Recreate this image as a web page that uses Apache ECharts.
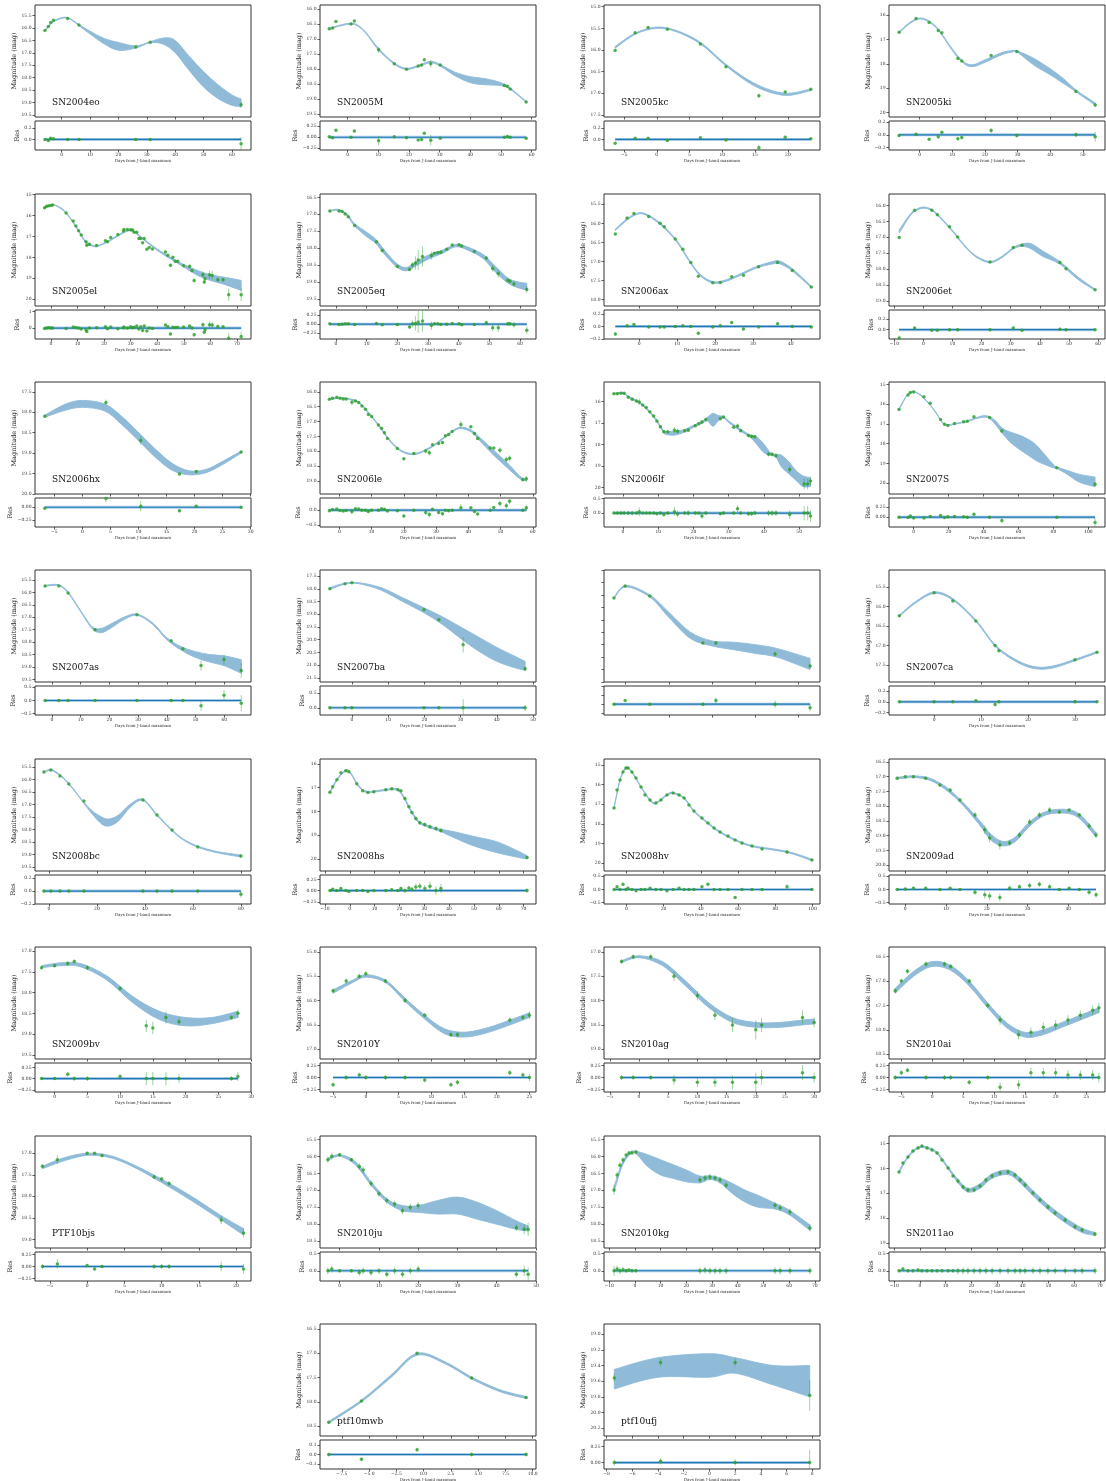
<!DOCTYPE html>
<html>
<head>
<meta charset="utf-8">
<script src="https://cdn.jsdelivr.net/npm/echarts@6/dist/echarts.min.js"></script>
<style>
  html, body { margin: 0; padding: 0; background: #fff; }
  #main { width: 1106px; height: 1481px; }
</style>
</head>
<body>
<div id="main"></div>
<script>
// axes per panel: [xmin, xmax, xstep, ymin, ymax, ystep, rmin, rmax, rstep]
// points per panel: [day, mag, err, residual]
// band per panel: [day, magLow, magHigh]

const sn2004eo_axes = [-9.4, 66.7, 10, 15.07, 19.59, 0.5, -0.19, 0.33, 0.2];
const sn2004eo_pts = [[-5.9,16.10,0.02,0.00],[-4.7,15.94,0.02,-0.02],[-3.9,15.78,0.02,0.02],[-2.9,15.69,0.02,0.01],[2.1,15.61,0.02,0.00],[6.1,15.88,0.02,0.00],[26.1,16.76,0.02,0.00],[31.2,16.57,0.02,0.00],[63.2,19.10,0.12,-0.08]];
const sn2004eo_band = [[-5.9,16.08,16.12],[-3,15.72,15.76],[0.5,15.57,15.60],[3,15.62,15.65],[6,15.85,15.90],[10,16.13,16.24],[15,16.42,16.64],[20,16.58,16.90],[26.1,16.72,16.81],[31.2,16.55,16.59],[36,16.40,16.66],[40,16.50,17.00],[45,17.15,17.72],[50,17.76,18.38],[55,18.28,18.84],[60,18.70,19.12],[63.2,18.86,19.18]];

const sn2005m_axes = [-9.0, 61.4, 10, 15.87, 19.59, 0.5, -0.29, 0.37, 0.25];
const sn2005m_pts = [[-6.0,16.66,0.02,0.01],[-4.9,16.63,0.02,-0.01],[-3.8,16.42,0.03,0.16],[1.1,16.50,0.02,0.00],[2.2,16.40,0.03,0.14],[10.1,17.36,0.10,-0.08],[15.2,17.82,0.02,0.01],[19.2,18.00,0.02,-0.01],[23.0,17.90,0.02,-0.06],[24.1,17.86,0.02,-0.05],[25.0,17.69,0.02,0.09],[27.1,17.82,0.12,-0.07],[30.2,17.86,0.02,-0.02],[51.1,18.54,0.02,0.00],[52.1,18.57,0.03,0.02],[53.0,18.66,0.02,0.00],[58.2,19.09,0.03,-0.02]];
const sn2005m_band = [[-6.0,16.65,16.68],[-3,16.55,16.58],[0.5,16.48,16.51],[3,16.52,16.55],[6,16.78,16.82],[10,17.30,17.36],[15,17.78,17.82],[19,17.97,18.01],[23,17.88,17.92],[27,17.74,17.79],[30,17.84,17.89],[35,18.10,18.22],[40,18.25,18.45],[45,18.32,18.52],[50,18.45,18.55],[53,18.63,18.67],[58.2,19.07,19.10]];

const sn2005kc_axes = [-8.05, 24.9, 5, 14.96, 17.55, 0.5, -0.19, 0.33, 0.2];
const sn2005kc_pts = [[-6.35,16.01,0.02,-0.07],[-3.30,15.60,0.02,0.02],[-1.32,15.48,0.02,0.02],[1.62,15.52,0.02,-0.02],[6.65,15.86,0.02,0.03],[10.56,16.39,0.02,-0.01],[15.58,17.06,0.05,-0.15],[19.59,16.97,0.03,0.04],[23.5,16.91,0.02,0.01]];
const sn2005kc_band = [[-6.35,15.92,15.96],[-3.3,15.61,15.64],[0,15.47,15.50],[3,15.55,15.58],[6.65,15.82,15.86],[10.56,16.33,16.37],[15,16.78,16.84],[19.5,17.00,17.05],[23.5,16.90,16.94]];

const sn2005ki_axes = [-9.4, 56.8, 10, 15.59, 20.18, 1, -0.24, 0.22, 0.2];
const sn2005ki_pts = [[-6.3,16.71,0.02,-0.01],[-1.1,16.14,0.02,0.01],[2.9,16.31,0.02,-0.07],[5.7,16.63,0.03,-0.03],[6.8,16.73,0.02,0.04],[11.7,17.78,0.03,-0.06],[12.9,17.89,0.03,-0.04],[21.9,17.66,0.04,0.07],[29.8,17.50,0.03,-0.01],[47.9,19.13,0.04,0.00],[53.8,19.69,0.08,-0.03]];
const sn2005ki_band = [[-6.3,16.69,16.73],[-3,16.30,16.35],[0,16.12,16.16],[3,16.25,16.30],[6,16.62,16.67],[9.5,17.30,17.36],[13,17.86,17.93],[16,18.04,18.12],[20,17.84,17.94],[25,17.55,17.64],[28,17.46,17.53],[30,17.48,17.54],[35,17.78,18.05],[40,18.20,18.45],[44,18.60,18.80],[48,19.08,19.16],[53.8,19.60,19.70]];

const sn2005el_axes = [-6.0, 75.3, 10, 14.98, 20.32, 1, -0.65, 1.08, 1];
const sn2005el_pts = [[-2.4,15.64,0.03,-0.02],[-1.6,15.56,0.03,0.0],[-0.8,15.54,0.03,0.02],[0.0,15.53,0.03,0.0],[0.6,15.51,0.03,0.01],[5.7,15.89,0.03,-0.02],[8.4,16.27,0.03,0.06],[9.4,16.50,0.03,0.03],[10.4,16.73,0.03,0.01],[11.4,16.94,0.03,-0.05],[13.2,17.26,0.08,-0.12],[13.5,17.42,0.05,-0.2],[14.5,17.37,0.03,0.0],[17.2,17.43,0.03,0.02],[20.5,17.21,0.05,0.08],[21.3,17.26,0.04,-0.04],[22.5,17.05,0.03,0.06],[25.2,16.91,0.03,-0.04],[27.3,16.75,0.03,0.02],[27.5,16.67,0.05,0.06],[28.8,16.67,0.03,0.0],[30.0,16.69,0.03,0.08],[30.7,16.70,0.05,0.02],[31.3,16.80,0.03,0.05],[32.3,16.80,0.03,0.12],[33.1,17.10,0.05,-0.05],[33.8,17.10,0.03,0.08],[34.5,17.31,0.05,-0.15],[35.1,17.10,0.05,0.13],[36.1,17.61,0.05,-0.18],[37.0,17.53,0.03,0.0],[38.2,17.60,0.03,-0.02],[43.1,17.74,0.05,0.18],[44.0,17.90,0.05,0.08],[45.0,18.38,0.08,-0.35],[45.9,18.00,0.05,0.05],[46.8,18.19,0.07,0.03],[47.7,18.19,0.05,0.05],[49.9,18.40,0.05,0.06],[52.2,18.43,0.08,0.12],[53.1,18.63,0.08,0.0],[53.9,19.10,0.1,-0.4],[57.2,18.83,0.15,0.2],[57.7,19.18,0.1,-0.25],[58.0,19.02,0.1,-0.1],[59.7,18.83,0.2,0.2],[60.7,18.86,0.2,0.18],[62.8,19.07,0.12,0.1],[64.8,19.07,0.08,0.08],[66.9,19.78,0.3,-0.6],[71.6,19.78,0.3,-0.5]];
const sn2005el_band = [[-2.4,15.62,15.65],[0.6,15.49,15.52],[3,15.58,15.62],[6,15.90,15.94],[10,16.62,16.67],[13,17.22,17.28],[16,17.43,17.48],[18,17.42,17.46],[22,17.18,17.23],[26,16.88,16.93],[29,16.70,16.75],[31,16.73,16.78],[35,17.13,17.18],[40,17.60,17.67],[45,18.00,18.08],[50,18.34,18.46],[55,18.62,18.85],[60,18.83,19.10],[65,18.94,19.28],[71.6,19.10,19.58]];

const sn2005eq_axes = [-5.2, 65.2, 10, 16.40, 19.71, 0.5, -0.41, 0.39, 0.25];
const sn2005eq_pts = [[-2.0,16.90,0.02,0.01],[1.0,16.90,0.02,-0.01],[2.0,16.92,0.02,0.0],[3.0,16.99,0.02,0.01],[4.0,17.07,0.02,0.01],[6.1,17.33,0.02,-0.01],[13.2,17.81,0.02,0.02],[15.1,18.07,0.02,-0.02],[20.0,18.54,0.03,-0.01],[24.0,18.63,0.05,-0.08],[24.9,18.50,0.1,0.01],[25.9,18.44,0.2,0.02],[26.8,18.35,0.3,0.06],[28.2,18.25,0.3,0.09],[31.1,18.22,0.12,-0.04],[32.1,18.15,0.03,0.01],[33.2,18.13,0.02,0.01],[34.2,18.12,0.02,-0.01],[36.1,18.03,0.02,0.0],[37.9,17.91,0.03,0.02],[40.1,17.90,0.02,0.01],[41.0,17.94,0.02,-0.02],[45.1,18.10,0.02,-0.01],[49.0,18.29,0.05,0.04],[51.1,18.60,0.1,-0.1],[52.9,18.75,0.12,-0.1],[56.0,18.95,0.05,0.01],[56.7,18.98,0.05,0.01],[58.0,19.06,0.08,-0.02],[62.2,19.22,0.1,-0.17]];
const sn2005eq_band = [[-2,16.89,16.92],[0,16.85,16.88],[2,16.89,16.93],[4,17.03,17.08],[6,17.27,17.34],[10,17.53,17.66],[13,17.74,17.86],[16,18.08,18.20],[20,18.47,18.57],[23,18.57,18.67],[26,18.41,18.53],[30,18.21,18.33],[35,18.05,18.14],[39,17.89,17.96],[43,17.97,18.06],[48,18.19,18.31],[52,18.54,18.71],[56,18.88,19.03],[59,18.99,19.16],[62.2,19.04,19.24]];

const sn2006ax_axes = [-9.3, 47.7, 10, 15.23, 18.17, 0.5, -0.2, 0.26, 0.2];
const sn2006ax_pts = [[-6.3,16.28,0.03,-0.12],[-3.2,15.86,0.02,0.01],[-1.4,15.74,0.02,0.03],[2.5,15.82,0.02,-0.01],[5.5,16.00,0.02,-0.01],[6.6,16.09,0.02,-0.01],[9.5,16.41,0.02,0.0],[11.5,16.68,0.02,0.01],[13.6,17.03,0.02,0.0],[15.6,17.39,0.02,-0.11],[19.4,17.56,0.02,-0.01],[21.4,17.55,0.02,0.01],[24.4,17.40,0.02,0.06],[27.5,17.36,0.02,-0.04],[31.5,17.14,0.02,-0.01],[36.5,17.03,0.02,0.04],[40.4,17.24,0.02,0.0],[45.4,17.67,0.02,-0.01]];
const sn2006ax_band = [[-6.3,16.15,16.19],[-3,15.86,15.90],[0,15.72,15.75],[2.5,15.79,15.82],[6,16.03,16.07],[10,16.46,16.50],[13,16.93,16.97],[16,17.33,17.37],[19.5,17.53,17.57],[23,17.48,17.52],[27,17.31,17.35],[31,17.13,17.17],[35,17.01,17.07],[37,16.99,17.06],[40.4,17.19,17.25],[45.4,17.65,17.69]];

const sn2006et_axes = [-11.8, 62.4, 10, 15.64, 19.16, 0.5, -0.17, 0.36, 0.2];
const sn2006et_pts = [[-8.3,17.01,0.04,-0.15],[-3.0,16.15,0.02,0.03],[2.9,16.15,0.02,-0.01],[4.8,16.29,0.02,-0.01],[9.0,16.67,0.02,0.0],[11.8,16.99,0.02,0.0],[22.9,17.78,0.02,0.0],[30.9,17.32,0.03,0.03],[33.9,17.25,0.02,-0.01],[46.9,17.79,0.03,0.01],[49.0,17.99,0.02,0.0],[59.0,18.65,0.02,0.0]];
const sn2006et_band = [[-8.3,16.77,16.87],[-5,16.33,16.39],[-3,16.15,16.19],[0,16.05,16.09],[3,16.13,16.17],[6,16.38,16.42],[10,16.78,16.82],[14,17.23,17.27],[18,17.58,17.62],[22.9,17.76,17.80],[27,17.60,17.64],[31,17.31,17.36],[34,17.21,17.29],[37,17.20,17.36],[41,17.43,17.60],[47,17.77,17.85],[53,18.24,18.32],[59,18.63,18.67]];

const sn2006hx_axes = [-8.45, 30.06, 5, 17.26, 20.0, 0.5, -0.385, 0.18, 0.25];
const sn2006hx_pts = [[-6.7,18.10,0.03,-0.02],[4.2,17.76,0.07,0.17],[10.4,18.69,0.1,0.02],[17.3,19.51,0.03,-0.07],[20.3,19.45,0.03,0.02],[28.3,18.97,0.02,0.0]];
const sn2006hx_band = [[-6.7,18.07,18.12],[-3,17.80,17.95],[0,17.71,17.88],[4,17.80,17.97],[7,18.10,18.30],[10.4,18.55,18.75],[13,18.90,19.10],[16,19.25,19.42],[19,19.43,19.53],[22,19.40,19.48],[25,19.20,19.28],[28.3,18.95,19.0]];

const sn2006le_axes = [-6.0, 61.0, 10, 15.67, 19.44, 0.5, -0.57, 0.41, 0.5];
const sn2006le_pts = [[-3.1,16.25,0.02,-0.02],[-2.1,16.22,0.02,0.02],[-0.8,16.18,0.02,0.04],[0.2,16.22,0.02,-0.01],[1.2,16.24,0.02,-0.03],[2.1,16.24,0.02,-0.01],[3.9,16.35,0.1,-0.05],[5.0,16.31,0.03,0.05],[6.0,16.36,0.03,0.04],[7.0,16.48,0.02,0.0],[8.1,16.59,0.02,0.0],[9.0,16.76,0.03,-0.05],[10.0,16.83,0.02,0.0],[12.1,17.12,0.02,0.0],[13.1,17.23,0.02,0.05],[14.0,17.38,0.05,0.03],[14.9,17.57,0.03,-0.03],[18.0,17.91,0.02,-0.02],[20.0,18.25,0.05,-0.2],[23.1,18.08,0.02,0.0],[26.8,17.99,0.08,-0.08],[27.9,18.05,0.1,-0.15],[28.9,17.78,0.03,0.03],[30.8,17.74,0.05,-0.08],[32.0,17.71,0.05,-0.12],[32.9,17.48,0.03,0.0],[33.9,17.44,0.03,-0.02],[35.0,17.34,0.03,0.0],[37.7,17.10,0.12,0.08],[40.8,17.18,0.03,0.08],[41.9,17.40,0.03,-0.05],[42.9,17.57,0.03,-0.13],[46.8,17.89,0.03,0.0],[47.9,17.89,0.03,0.09],[49.8,17.97,0.1,0.22],[51.8,18.28,0.1,0.15],[52.8,18.24,0.1,0.3],[56.9,18.96,0.03,0.0],[58.0,18.93,0.1,0.08]];
const sn2006le_band = [[-3.1,16.23,16.26],[0,16.19,16.22],[3,16.23,16.26],[6,16.34,16.37],[9,16.68,16.72],[12,17.08,17.12],[15,17.53,17.57],[18,17.88,17.92],[21,18.05,18.09],[24,18.06,18.10],[27,17.93,17.97],[30,17.73,17.77],[33,17.48,17.52],[36,17.25,17.29],[38,17.19,17.24],[41,17.29,17.36],[44,17.58,17.70],[47,17.88,18.04],[50,18.18,18.35],[53,18.49,18.65],[56,18.84,18.93],[58,18.95,19.0]];

const sn2006lf_axes = [-5.4, 55.9, 10, 15.09, 20.30, 1, -0.48, 0.52, 0.5];
const sn2006lf_pts = [[-2.6,15.64,0.03,0.0],[-1.6,15.64,0.03,0.0],[-0.6,15.61,0.05,0.0],[0.3,15.61,0.05,0.0],[1.5,15.80,0.05,0.0],[2.6,15.89,0.08,0.0],[3.8,15.97,0.05,0.0],[4.6,16.02,0.15,0.05],[5.6,16.16,0.03,0.0],[6.6,16.28,0.03,0.0],[7.6,16.47,0.03,0.0],[8.7,16.67,0.03,0.0],[9.6,16.91,0.03,-0.02],[10.6,17.17,0.05,0.0],[11.6,17.41,0.08,-0.05],[12.7,17.41,0.05,0.0],[14.6,17.33,0.15,0.05],[15.5,17.38,0.12,-0.03],[17.5,17.36,0.05,0.0],[18.5,17.33,0.1,0.0],[20.5,17.13,0.05,0.0],[21.5,17.03,0.05,0.0],[22.4,16.95,0.1,-0.1],[23.5,16.83,0.05,0.0],[27.6,16.80,0.05,-0.02],[28.5,16.72,0.05,0.0],[31.4,17.19,0.05,0.0],[32.5,17.14,0.12,0.15],[33.4,17.36,0.05,0.0],[35.6,17.58,0.08,-0.02],[36.5,17.61,0.08,-0.02],[37.4,17.64,0.08,0.0],[41.3,18.45,0.1,0.0],[42.3,18.45,0.1,0.0],[43.4,18.52,0.1,0.0],[47.3,19.16,0.15,-0.05],[51.4,19.83,0.25,0.0],[52.4,19.83,0.25,0.0],[53.2,19.69,0.2,-0.1]];
const sn2006lf_band = [[-2.6,15.62,15.66],[0,15.58,15.63],[2,15.80,15.86],[5,16.05,16.12],[8,16.53,16.60],[10,16.96,17.04],[11.6,17.36,17.47],[13,17.40,17.55],[15,17.38,17.55],[17.5,17.30,17.42],[20,17.10,17.20],[22.5,16.92,17.00],[24,16.72,16.90],[25.5,16.55,17.15],[27,16.65,16.90],[28.5,16.70,16.76],[30,16.90,16.98],[32,17.13,17.22],[34,17.35,17.45],[36,17.55,17.65],[38,17.65,18.00],[40,17.98,18.38],[42,18.40,18.50],[43.5,18.45,18.60],[45,18.50,19.05],[47.3,18.85,19.40],[49,19.20,19.65],[51,19.45,19.95],[53.2,19.55,19.95]];

const sn2007s_axes = [-14.1, 109.5, 20, 14.88, 20.54, 1, -0.24, 0.47, 0.25];
const sn2007s_pts = [[-8.4,16.27,0.02,0.0],[-3.2,15.54,0.02,-0.01],[-1.9,15.41,0.02,0.03],[0.0,15.39,0.02,-0.02],[5.9,15.63,0.02,-0.02],[9.5,15.96,0.02,0.02],[15.4,16.77,0.02,0.04],[17.7,17.01,0.02,-0.01],[19.6,17.08,0.02,0.01],[23.4,16.98,0.02,0.02],[28.6,16.89,0.02,0.01],[30.7,16.86,0.02,0.0],[34.5,16.64,0.03,0.07],[43.4,16.67,0.02,0.0],[50.5,17.35,0.07,-0.08],[81.9,19.21,0.03,0.0],[103.8,20.05,0.12,-0.13]];
const sn2007s_band = [[-8.4,16.22,16.30],[-4,15.56,15.60],[-1,15.36,15.40],[1,15.37,15.41],[5,15.60,15.64],[10,16.08,16.12],[14,16.58,16.62],[17,16.96,17.00],[20,17.03,17.07],[25,16.95,16.99],[30,16.86,16.90],[35,16.70,16.75],[40,16.58,16.66],[43.4,16.63,16.72],[47,16.85,17.05],[50.5,17.20,17.45],[55,17.40,17.90],[60,17.55,18.25],[65,17.75,18.55],[70,18.05,18.85],[75,18.55,19.05],[80,19.05,19.22],[82,19.18,19.25],[88,19.35,19.55],[95,19.55,19.95],[103.8,19.68,20.17]];

const sn2007as_axes = [-5.9, 69.3, 10, 15.1, 19.6, 0.5, -0.55, 0.55, 0.5];
const sn2007as_pts = [[-2.4,15.74,0.02,0.0],[2.4,15.74,0.02,0.0],[5.6,16.02,0.02,0.0],[15.0,17.5,0.02,0.0],[29.6,16.9,0.02,0.0],[41.5,17.94,0.03,0.0],[45.6,18.26,0.03,0.0],[51.9,18.94,0.2,-0.2],[59.9,18.7,0.2,0.2],[65.9,19.14,0.3,-0.1]];
const sn2007as_band = [[-2.4,15.72,15.76],[0,15.68,15.72],[3,15.72,15.76],[6,16.03,16.08],[10,16.73,16.78],[14,17.38,17.46],[17,17.45,17.62],[20,17.30,17.47],[25,17.00,17.10],[29.6,16.87,16.92],[35,17.22,17.28],[40,17.82,17.90],[45,18.18,18.32],[50,18.38,18.62],[55,18.50,18.80],[60,18.55,18.95],[65.9,18.70,19.25]];

const sn2007ba_axes = [-8.8, 50.8, 10, 17.26, 21.66, 0.5, -0.25, 0.75, 0.5];
const sn2007ba_pts = [[-6.1,18.0,0.02,0.0],[-1.9,17.8,0.02,0.0],[0,17.76,0.02,0.0],[19.9,18.82,0.02,0.0],[24,19.21,0.03,0.0],[30.7,20.2,0.3,0.0],[47.8,21.14,0.1,0.0]];
const sn2007ba_band = [[-6.1,17.95,18.03],[-2,17.78,17.82],[2,17.76,17.80],[8,17.95,18.05],[14,18.35,18.50],[20,18.75,18.95],[25,19.10,19.40],[30,19.50,19.95],[35,19.90,20.45],[40,20.30,20.85],[45,20.65,21.10],[47.8,20.85,21.20]];

const blank_axes = [-5, 45, 10, 15.0, 19.5, 0.5, -0.3, 0.5, 0.25];
const blank_pts = [[-2.7,16.13,0.02,0.0],[-0.1,15.64,0.02,0.1],[5.6,16.04,0.02,0.0],[17.9,17.93,0.05,0.0],[20.9,17.93,0.08,0.1],[34.6,18.38,0.1,0.0],[42.7,18.86,0.1,-0.1]];
const blank_band = [[-2.7,16.1,16.15],[0,15.62,15.68],[5.6,16.0,16.08],[10,16.7,16.9],[15,17.5,17.75],[20,17.85,18.05],[25,17.9,18.2],[30,18.0,18.35],[35,18.15,18.5],[42.7,18.55,19.0]];

const sn2007ca_axes = [-9.6, 36.4, 10, 15.07, 17.93, 0.5, -0.25, 0.3, 0.2];
const sn2007ca_pts = [[-7.4,16.24,0.02,0.0],[0,15.65,0.02,0.0],[4.0,15.86,0.02,0.0],[8.9,16.37,0.02,0.02],[13.0,17.0,0.04,-0.05],[13.8,17.13,0.03,0.0],[30,17.36,0.02,0.0],[34.7,17.17,0.02,0.0]];
const sn2007ca_band = [[-7.4,16.22,16.26],[-4,15.88,15.92],[0,15.63,15.67],[4,15.80,15.84],[9,16.36,16.40],[13,16.98,17.02],[17,17.33,17.38],[21,17.53,17.58],[25,17.53,17.58],[30,17.35,17.39],[34.7,17.15,17.19]];

const sn2008bc_axes = [-5.8, 84.2, 20, 15.18, 19.66, 0.5, -0.2, 0.25, 0.2];
const sn2008bc_pts = [[-2.1,15.70,0.02,0.0],[0.8,15.62,0.02,0.0],[4.6,15.86,0.02,0.0],[8.3,16.18,0.02,0.0],[14.6,16.86,0.02,0.0],[39.2,16.82,0.02,0.0],[45,17.42,0.02,0.0],[51.3,18.02,0.02,0.0],[62,18.70,0.02,0.0],[80,19.06,0.05,-0.05]];
const sn2008bc_band = [[-2.1,15.68,15.72],[1,15.60,15.64],[5,15.84,15.88],[9,16.23,16.27],[14,16.84,16.88],[18,17.25,17.38],[22,17.50,17.78],[25,17.58,17.86],[29,17.42,17.66],[34,16.98,17.10],[39.2,16.79,16.84],[45,17.39,17.44],[51,17.98,18.03],[56,18.38,18.42],[62,18.66,18.71],[70,18.88,18.93],[80,19.02,19.10]];

const sn2008hs_axes = [-12, 75, 10, 15.8, 20.5, 1, -0.3, 0.35, 0.25];
const sn2008hs_pts = [[-8.0,17.20,0.03,0.0],[-6.9,16.96,0.03,0.03],[-5.2,16.67,0.03,0.0],[-3.6,16.38,0.03,0.05],[-1.6,16.29,0.03,0.0],[-0.4,16.33,0.03,-0.02],[2.8,16.84,0.03,0.0],[5.2,17.13,0.03,0.0],[7.3,17.21,0.03,-0.02],[9.7,17.17,0.03,0.0],[14.5,17.09,0.03,0.0],[16.9,17.05,0.03,0.02],[19.4,17.09,0.03,0.0],[20.6,17.13,0.04,0.05],[22.2,17.46,0.05,0.0],[23.8,17.80,0.05,0.06],[25.0,18.05,0.05,0.03],[26.6,18.30,0.08,0.08],[28.2,18.47,0.08,0.1],[30.2,18.55,0.08,0.05],[32.3,18.64,0.1,0.1],[34.7,18.72,0.1,0.0],[36.7,18.80,0.1,0.05],[71.4,19.93,0.05,0.0]];
const sn2008hs_band = [[-8,17.17,17.23],[-5.2,16.64,16.70],[-2,16.28,16.33],[0,16.32,16.37],[3,16.82,16.88],[6,17.13,17.18],[10,17.14,17.19],[15,17.06,17.11],[19.4,17.06,17.12],[22,17.42,17.50],[25,18.00,18.08],[28,18.42,18.50],[32,18.60,18.68],[36.7,18.75,18.85],[42,18.85,19.10],[50,19.05,19.45],[60,19.30,19.75],[71.4,19.85,20.00]];

const sn2008hv_axes = [-12, 104, 20, 14.7, 20.4, 1, -0.55, 0.55, 0.5];
const sn2008hv_pts = [[-6.6,17.19,0.05,0.0],[-5.0,16.28,0.05,0.1],[-3.4,15.77,0.05,0.0],[-1.8,15.36,0.05,0.2],[-0.2,15.16,0.05,0.0],[0.9,15.16,0.05,0.05],[3.0,15.36,0.05,0.0],[5.2,15.67,0.05,-0.05],[7.9,16.13,0.05,0.0],[10.0,16.53,0.05,0.0],[12.7,16.79,0.05,0.05],[15.9,16.94,0.05,0.0],[18.6,16.79,0.05,0.0],[21.8,16.53,0.05,-0.05],[25.1,16.43,0.05,0.0],[28.3,16.53,0.05,0.05],[31.0,16.69,0.05,0.0],[33.6,17.04,0.05,0.0],[36.3,17.35,0.05,0.0],[40.6,17.70,0.05,0.1],[43.8,17.96,0.05,0.2],[47.1,18.21,0.05,0.0],[50.3,18.42,0.05,0.0],[54.6,18.62,0.05,0.0],[58.4,18.82,0.05,-0.3],[62.1,18.98,0.05,0.0],[67.5,19.13,0.05,0.0],[72.9,19.28,0.05,0.0],[86.3,19.43,0.1,0.1],[99.7,19.84,0.05,0.0]];
const sn2008hv_band = [[-6.6,17.15,17.23],[-3.4,15.74,15.80],[-0.2,15.13,15.19],[3.0,15.33,15.39],[7.9,16.10,16.16],[12.7,16.76,16.82],[15.9,16.91,16.97],[21.8,16.50,16.56],[25.1,16.40,16.46],[31.0,16.66,16.72],[36.3,17.32,17.38],[43.8,17.93,17.99],[50.3,18.39,18.45],[58.4,18.79,18.85],[67.5,19.10,19.16],[86.3,19.40,19.46],[99.7,19.80,19.88]];

const sn2009ad_axes = [-4, 49, 10, 16.4, 20.2, 0.5, -0.55, 0.55, 0.5];
const sn2009ad_pts = [[-2,17.05,0.05,0],[0,17.0,0.05,0.02],[2,17.0,0.05,0.05],[5,17.05,0.05,0.05],[8.5,17.28,0.05,0],[11,17.45,0.05,0.05],[13.4,17.79,0.05,0],[17.1,18.3,0.1,-0.1],[19.5,18.8,0.15,-0.2],[20.7,19.08,0.15,-0.25],[23.2,19.32,0.15,-0.3],[25.6,19.25,0.1,0.05],[28,18.98,0.1,0.1],[30.5,18.54,0.1,0.15],[32.9,18.3,0.1,0.2],[35.4,18.13,0.1,0.1],[37.8,18.2,0.05,0],[40.2,18.13,0.05,0.05],[42.7,18.3,0.05,0],[45.1,18.67,0.1,-0.1],[46.8,18.98,0.1,-0.2]];
const sn2009ad_band = [[-2,17.02,17.08],[2,16.97,17.03],[6,17.05,17.12],[10,17.35,17.45],[14,17.85,17.95],[18,18.45,18.60],[21,18.95,19.15],[24,19.20,19.35],[27,19.05,19.20],[30,18.60,18.75],[33,18.28,18.40],[36,18.13,18.25],[40,18.12,18.25],[43,18.30,18.45],[46.8,18.90,19.05]];

const sn2009bv_axes = [-3, 30, 5, 16.9, 19.6, 0.5, -0.3, 0.35, 0.25];
const sn2009bv_pts = [[-2,17.4,0.03,0],[0,17.35,0.03,0],[2,17.3,0.05,0.1],[3,17.25,0.05,0],[5,17.4,0.05,0],[10,17.9,0.05,0.05],[14,18.8,0.15,0],[15,18.85,0.15,0],[17,18.6,0.15,0],[19,18.7,0.1,0],[27,18.6,0.05,0],[28,18.5,0.1,0.05]];
const sn2009bv_band = [[-2,17.35,17.4],[1,17.28,17.35],[4,17.3,17.38],[8,17.6,17.7],[12,18.1,18.25],[16,18.45,18.65],[20,18.6,18.8],[24,18.6,18.75],[28,18.45,18.6]];

const sn2010y_axes = [-7, 26, 5, 14.9, 17.2, 0.5, -0.3, 0.3, 0.25];
const sn2010y_pts = [[-5,15.8,0.05,-0.15],[-3,15.6,0.05,0],[-1,15.5,0.05,0.05],[0,15.45,0.05,0],[3,15.6,0.05,0],[6,16.0,0.05,0],[9,16.3,0.05,-0.05],[13,16.7,0.05,-0.15],[14,16.7,0.05,-0.1],[22,16.4,0.05,0.1],[24,16.35,0.05,0.05],[25,16.3,0.08,0]];
const sn2010y_band = [[-5,15.78,15.85],[-2,15.58,15.63],[0,15.47,15.52],[3,15.58,15.63],[6,15.95,16.02],[9,16.3,16.38],[12,16.58,16.68],[15,16.65,16.75],[18,16.58,16.68],[21,16.45,16.55],[25,16.25,16.35]];

const sn2010ag_axes = [-6, 31, 5, 16.9, 19.2, 0.5, -0.3, 0.3, 0.25];
const sn2010ag_pts = [[-3,17.2,0.05,0],[-1,17.1,0.05,0],[2,17.1,0.05,0],[6,17.5,0.1,-0.05],[10,17.9,0.1,-0.1],[13,18.3,0.1,-0.1],[16,18.5,0.15,-0.1],[20,18.6,0.2,-0.1],[21,18.5,0.15,0],[28,18.35,0.15,0.1],[30,18.45,0.1,0]];
const sn2010ag_band = [[-3,17.18,17.22],[0,17.08,17.12],[4,17.2,17.28],[8,17.6,17.7],[12,18.05,18.15],[16,18.35,18.45],[20,18.45,18.55],[24,18.45,18.55],[28,18.4,18.5],[30,18.38,18.48]];

const sn2010ai_axes = [-7, 28, 5, 16.3, 18.6, 0.5, -0.3, 0.3, 0.25];
const sn2010ai_pts = [[-6,17.2,0.05,0],[-5,17.0,0.05,0.1],[-4,16.8,0.05,0.15],[-1,16.65,0.05,0],[2,16.65,0.05,0],[3,16.7,0.05,0],[6,17.0,0.05,-0.1],[9,17.5,0.05,0],[11,17.8,0.1,-0.2],[14,18.1,0.1,-0.15],[16,18.05,0.1,0.1],[18,17.95,0.1,0.1],[20,17.9,0.1,0.1],[22,17.8,0.1,0.05],[24,17.7,0.1,0.05],[26,17.6,0.1,0.05],[27,17.55,0.1,0]];
const sn2010ai_band = [[-6,17.15,17.25],[-3,16.8,16.9],[0,16.6,16.7],[3,16.68,16.78],[6,17.0,17.1],[9,17.45,17.55],[12,17.85,17.95],[15,18.05,18.15],[18,18.0,18.1],[21,17.85,17.95],[24,17.7,17.8],[27,17.55,17.65]];

const ptf10bjs_axes = [-7, 22, 5, 16.6, 19.2, 0.5, -0.3, 0.3, 0.25];
const ptf10bjs_pts = [[-6,17.3,0.05,0],[-4,17.15,0.1,0.05],[0,17.0,0.03,0.02],[1,17.0,0.03,-0.05],[2,17.05,0.03,0],[9,17.55,0.05,0],[10,17.6,0.05,0],[11,17.7,0.05,0],[18,18.55,0.1,0],[21,18.85,0.1,-0.05]];
const ptf10bjs_band = [[-6,17.3,17.36],[-3,17.1,17.17],[0,17.0,17.05],[3,17.05,17.1],[6,17.25,17.3],[10,17.6,17.68],[14,18.0,18.1],[18,18.45,18.55],[21,18.75,18.9]];

const sn2010ju_axes = [-5, 50, 10, 15.4, 18.7, 0.5, -0.3, 0.55, 0.5];
const sn2010ju_pts = [[-3,16.1,0.1,0],[-2,16.0,0.1,0.05],[0,15.95,0.05,0],[3,16.1,0.05,0],[5,16.3,0.1,-0.05],[6,16.4,0.1,0],[8,16.8,0.1,-0.05],[10,17.1,0.1,0],[12,17.3,0.1,-0.1],[14,17.4,0.1,0],[16,17.6,0.1,-0.1],[18,17.5,0.1,0],[20,17.45,0.1,0.05],[45,18.1,0.1,-0.1],[47,18.15,0.15,0],[48,18.15,0.2,-0.1]];
const sn2010ju_band = [[-3,16.05,16.12],[0,15.95,16.0],[4,16.15,16.25],[8,16.75,16.85],[12,17.25,17.35],[16,17.45,17.6],[20,17.45,17.65],[25,17.3,17.7],[30,17.2,17.7],[35,17.35,17.85],[40,17.6,18.0],[45,17.9,18.15],[48,18.05,18.2]];

const sn2010kg_axes = [-12, 72, 10, 15.4, 18.7, 0.5, -0.3, 0.55, 0.5];
const sn2010kg_pts = [[-8.1,16.99,0.15,0],[-6.9,16.55,0.1,0.05],[-5.8,16.26,0.1,0],[-4.6,16.11,0.08,0.03],[-3.4,15.96,0.05,0],[-2.3,15.90,0.05,0.02],[-1.1,15.90,0.05,0],[0.4,15.87,0.05,0],[25.3,16.70,0.1,0],[27.3,16.64,0.1,0.02],[29.2,16.61,0.1,0],[31.2,16.64,0.1,0],[33.1,16.70,0.1,0],[35.5,16.85,0.1,0],[54.5,17.44,0.1,0],[56.5,17.52,0.1,0],[60.3,17.64,0.1,0],[68.1,18.11,0.1,0]];
const sn2010kg_band = [[-8.1,16.90,17.05],[-5,16.20,16.30],[-2,15.88,15.95],[0.4,15.85,15.92],[5,15.95,16.30],[10,16.10,16.55],[15,16.25,16.65],[20,16.40,16.75],[25.3,16.58,16.78],[29,16.57,16.68],[33,16.63,16.77],[38,16.80,17.10],[43,17.00,17.35],[48,17.15,17.50],[54.5,17.38,17.55],[60,17.58,17.72],[68.1,18.02,18.18]];

const sn2011ao_axes = [-12, 72, 10, 14.7, 19.2, 1, -0.3, 0.55, 0.5];
const sn2011ao_pts = [[-8.1,16.15,0.05,0],[-6.6,15.78,0.05,0.05],[-4.6,15.54,0.05,0],[-2.7,15.30,0.05,0],[-0.7,15.18,0.05,0.02],[0.8,15.10,0.05,0],[2.8,15.18,0.05,0],[4.7,15.26,0.05,0],[6.7,15.38,0.05,0],[8.6,15.66,0.05,0],[11.0,15.99,0.05,0],[12.9,16.31,0.05,0],[14.8,16.51,0.1,0],[16.8,16.75,0.1,0],[18.7,16.87,0.1,0],[21.1,16.87,0.1,0],[23.4,16.71,0.1,0],[25.7,16.47,0.1,0],[28.1,16.31,0.1,0],[31.2,16.19,0.1,0],[34.3,16.15,0.1,0],[37.0,16.27,0.1,0],[39.0,16.47,0.1,0],[40.9,16.67,0.1,0],[44.0,16.99,0.1,0],[46.7,17.27,0.1,0],[49.8,17.55,0.1,0],[52.6,17.79,0.1,0],[56.5,18.07,0.1,0],[60.3,18.35,0.1,0],[63.1,18.48,0.1,0],[68.1,18.64,0.1,0]];
const sn2011ao_band = [[-8.1,16.10,16.18],[-4.6,15.50,15.57],[-0.7,15.14,15.20],[2.8,15.14,15.20],[6.7,15.35,15.42],[11.0,15.94,16.03],[14.8,16.45,16.57],[18.7,16.80,16.95],[23.4,16.62,16.80],[28.1,16.22,16.40],[34.3,16.07,16.25],[39.0,16.38,16.58],[44.0,16.90,17.10],[49.8,17.45,17.65],[56.5,17.98,18.18],[63.1,18.40,18.58],[68.1,18.58,18.70]];

const ptf10mwb_axes = [-9.5, 10.3, 2.5, 16.4, 18.7, 0.5, -0.15, 0.15, 0.1];
const ptf10mwb_pts = [[-8.7,18.42,0.02,0.0],[-5.7,17.98,0.02,-0.05],[-0.6,17.0,0.02,0.05],[4.4,17.51,0.02,0.0],[9.4,17.91,0.02,0.0]];
const ptf10mwb_band = [[-8.7,18.40,18.44],[-5.7,17.96,18.0],[-3,17.45,17.5],[-0.6,17.0,17.04],[2,17.18,17.22],[4.4,17.49,17.53],[7,17.75,17.79],[9.4,17.89,17.93]];

const ptf10ufj_axes = [-8.2, 8.6, 2, 18.87, 20.3, 0.2, -0.1, 0.35, 0.25];
const ptf10ufj_pts = [[-7.4,19.56,0.05,0.0],[-3.8,19.36,0.05,0.02],[2.0,19.36,0.05,0.0],[7.8,19.78,0.2,0.0]];
const ptf10ufj_band = [[-7.4,19.45,19.7],[-4,19.3,19.55],[0,19.25,19.55],[2,19.3,19.5],[5,19.4,19.65],[7.8,19.4,19.8]];

// layout: [label, row, col, axes, points, band]
const panels = [
  ['SN2004eo', 0, 0, sn2004eo_axes, sn2004eo_pts, sn2004eo_band],
  ['SN2005M', 0, 1, sn2005m_axes, sn2005m_pts, sn2005m_band],
  ['SN2005kc', 0, 2, sn2005kc_axes, sn2005kc_pts, sn2005kc_band],
  ['SN2005ki', 0, 3, sn2005ki_axes, sn2005ki_pts, sn2005ki_band],
  ['SN2005el', 1, 0, sn2005el_axes, sn2005el_pts, sn2005el_band],
  ['SN2005eq', 1, 1, sn2005eq_axes, sn2005eq_pts, sn2005eq_band],
  ['SN2006ax', 1, 2, sn2006ax_axes, sn2006ax_pts, sn2006ax_band],
  ['SN2006et', 1, 3, sn2006et_axes, sn2006et_pts, sn2006et_band],
  ['SN2006hx', 2, 0, sn2006hx_axes, sn2006hx_pts, sn2006hx_band],
  ['SN2006le', 2, 1, sn2006le_axes, sn2006le_pts, sn2006le_band],
  ['SN2006lf', 2, 2, sn2006lf_axes, sn2006lf_pts, sn2006lf_band],
  ['SN2007S', 2, 3, sn2007s_axes, sn2007s_pts, sn2007s_band],
  ['SN2007as', 3, 0, sn2007as_axes, sn2007as_pts, sn2007as_band],
  ['SN2007ba', 3, 1, sn2007ba_axes, sn2007ba_pts, sn2007ba_band],
  ['', 3, 2, blank_axes, blank_pts, blank_band],
  ['SN2007ca', 3, 3, sn2007ca_axes, sn2007ca_pts, sn2007ca_band],
  ['SN2008bc', 4, 0, sn2008bc_axes, sn2008bc_pts, sn2008bc_band],
  ['SN2008hs', 4, 1, sn2008hs_axes, sn2008hs_pts, sn2008hs_band],
  ['SN2008hv', 4, 2, sn2008hv_axes, sn2008hv_pts, sn2008hv_band],
  ['SN2009ad', 4, 3, sn2009ad_axes, sn2009ad_pts, sn2009ad_band],
  ['SN2009bv', 5, 0, sn2009bv_axes, sn2009bv_pts, sn2009bv_band],
  ['SN2010Y', 5, 1, sn2010y_axes, sn2010y_pts, sn2010y_band],
  ['SN2010ag', 5, 2, sn2010ag_axes, sn2010ag_pts, sn2010ag_band],
  ['SN2010ai', 5, 3, sn2010ai_axes, sn2010ai_pts, sn2010ai_band],
  ['PTF10bjs', 6, 0, ptf10bjs_axes, ptf10bjs_pts, ptf10bjs_band],
  ['SN2010ju', 6, 1, sn2010ju_axes, sn2010ju_pts, sn2010ju_band],
  ['SN2010kg', 6, 2, sn2010kg_axes, sn2010kg_pts, sn2010kg_band],
  ['SN2011ao', 6, 3, sn2011ao_axes, sn2011ao_pts, sn2011ao_band],
  ['ptf10mwb', 7, 1, ptf10mwb_axes, ptf10mwb_pts, ptf10mwb_band],
  ['ptf10ufj', 7, 2, ptf10ufj_axes, ptf10ufj_pts, ptf10ufj_band]
];

const colLeft = [35, 320, 604, 889];
const rowTop = [5, 194, 382, 570, 759, 947, 1136, 1324];
const W = 216, H = 112, GAP = 4, RH = 29;

const BAND = '#8fbbd9';
const GREEN = '#2ca02c';
const ERRC = 'rgba(44,160,44,0.45)';
const BLUE = '#1f77b4';
const FONT = 'DejaVu Serif';
const FRAME = '#333';

function ticks(min, max, step) {
  const out = [];
  for (let k = Math.ceil(min / step - 1e-6); k * step <= max + 1e-6; k++) {
    out.push(+(k * step).toFixed(6));
  }
  return out;
}
function decimals(step) {
  const s = String(step);
  return s.indexOf('.') >= 0 ? s.split('.')[1].length : 0;
}
function fmt(v, d) {
  const s = Math.abs(v) < 1e-9 ? (0).toFixed(d) : v.toFixed(d);
  return s.replace('-', '\u2212');
}

// smooth path through pixel points (catmull-rom as cubic bezier), like smooth:true
function spline(p) {
  let s = '';
  for (let i = 0; i < p.length - 1; i++) {
    const p0 = p[Math.max(i - 1, 0)], p1 = p[i], p2 = p[i + 1], p3 = p[Math.min(i + 2, p.length - 1)];
    const c1x = p1[0] + (p2[0] - p0[0]) / 6, c1y = p1[1] + (p2[1] - p0[1]) / 6;
    const c2x = p2[0] - (p3[0] - p1[0]) / 6, c2y = p2[1] - (p3[1] - p1[1]) / 6;
    s += ' C ' + c1x + ' ' + c1y + ' ' + c2x + ' ' + c2y + ' ' + p2[0] + ' ' + p2[1];
  }
  return s;
}

function bandSeries(gi, band) {
  return {
    type: 'custom',
    xAxisIndex: gi, yAxisIndex: gi,
    data: band,
    encode: { x: 0, y: [1, 2] },
    clip: true, silent: true, z: 1,
    renderItem: function (params, api) {
      if (params.dataIndex !== 0) return null;
      const top = band.map(function (b) { return api.coord([b[0], b[1]]); });
      const bot = band.map(function (b) { return api.coord([b[0], b[2]]); }).reverse();
      const d = 'M ' + top[0][0] + ' ' + top[0][1] + spline(top) +
        ' L ' + bot[0][0] + ' ' + bot[0][1] + spline(bot) + ' Z';
      return {
        type: 'path',
        shape: { pathData: d },
        style: { fill: BAND, stroke: BAND, lineWidth: 0.9 }
      };
    }
  };
}

function errBars(gi, data) {
  return {
    type: 'custom',
    xAxisIndex: gi, yAxisIndex: gi,
    data: data,
    encode: { x: 0, y: 1 },
    clip: true, silent: true, z: 3,
    renderItem: function (params, api) {
      const x = api.value(0), y = api.value(1), e = api.value(2);
      const a = api.coord([x, y - e]);
      const b = api.coord([x, y + e]);
      return {
        type: 'line',
        shape: { x1: a[0], y1: a[1], x2: b[0], y2: b[1] },
        style: { stroke: ERRC, lineWidth: 1 }
      };
    }
  };
}

const grid = [], xAxis = [], yAxis = [], series = [], graphic = [];

panels.forEach(function (p, i) {
  const label = p[0], row = p[1], col = p[2], ax = p[3], pts = p[4], band = p[5];
  const left = colLeft[col], top = rowTop[row];
  const gm = 2 * i, gr = 2 * i + 1;
  const hide = label === '';
  const xt = ticks(ax[0], ax[1], ax[2]);
  const yt = ticks(ax[3], ax[4], ax[5]);
  const rt = ticks(ax[6], ax[7], ax[8]);
  const xd = decimals(ax[2]), yd = decimals(ax[5]), rd = decimals(ax[8]);

  grid.push({ left: left, top: top, width: W, height: H, show: true, borderColor: FRAME, borderWidth: 1, backgroundColor: 'transparent', outerBoundsMode: 'none', containLabel: false });
  grid.push({ left: left, top: top + H + GAP, width: W, height: RH, show: true, borderColor: FRAME, borderWidth: 1, backgroundColor: 'transparent', outerBoundsMode: 'none', containLabel: false });

  const tickStyle = { show: true, length: 2.5, lineStyle: { color: FRAME, width: 0.8 } };
  const noLine = { show: false, onZero: false };

  xAxis.push({
    type: 'value', gridIndex: gm, min: ax[0], max: ax[1],
    axisLine: noLine, splitLine: { show: false },
    axisTick: Object.assign({ customValues: xt }, tickStyle),
    axisLabel: { show: false, customValues: xt }
  });
  xAxis.push({
    type: 'value', gridIndex: gr, min: ax[0], max: ax[1],
    axisLine: noLine, splitLine: { show: false },
    axisTick: Object.assign({ customValues: xt }, tickStyle),
    axisLabel: { show: !hide, customValues: xt, fontFamily: FONT, fontSize: 4.5, color: '#333', margin: 2.5,
      formatter: function (v) { return fmt(v, xd); } },
    name: hide ? '' : 'Days from J-band maximum', nameLocation: 'middle', nameGap: 9,
    nameTextStyle: { fontFamily: FONT, fontSize: 4, color: '#333' }
  });
  yAxis.push({
    type: 'value', gridIndex: gm, min: ax[3], max: ax[4], inverse: true,
    axisLine: noLine, splitLine: { show: false },
    axisTick: Object.assign({ customValues: yt }, tickStyle),
    axisLabel: { show: !hide, customValues: yt, fontFamily: FONT, fontSize: 4.5, color: '#333', margin: 3.5,
      formatter: function (v) { return fmt(v, yd); } },
    name: hide ? '' : 'Magnitude (mag)', nameLocation: 'middle', nameGap: 17, nameRotate: 90,
    nameTextStyle: { fontFamily: FONT, fontSize: 6.5, color: '#222' }
  });
  yAxis.push({
    type: 'value', gridIndex: gr, min: ax[6], max: ax[7],
    axisLine: noLine, splitLine: { show: false },
    axisTick: Object.assign({ customValues: rt }, tickStyle),
    axisLabel: { show: !hide, customValues: rt, fontFamily: FONT, fontSize: 4.5, color: '#333', margin: 3.5,
      formatter: function (v) { return fmt(v, rd); } },
    name: hide ? '' : 'Res', nameLocation: 'middle', nameGap: 14.5, nameRotate: 90,
    nameTextStyle: { fontFamily: FONT, fontSize: 6.5, color: '#222' }
  });

  // GP band in the light-curve panel
  series.push(bandSeries(gm, band));
  series.push(errBars(gm, pts.map(function (q) { return [q[0], q[1], q[2]]; })));
  series.push({
    type: 'scatter', xAxisIndex: gm, yAxisIndex: gm, symbolSize: 3.5, z: 4, silent: true,
    itemStyle: { color: GREEN },
    data: pts.map(function (q) { return [q[0], q[1]]; })
  });

  // residual panel
  const x0 = pts[0][0], x1 = pts[pts.length - 1][0];
  series.push({
    type: 'line', xAxisIndex: gr, yAxisIndex: gr, symbol: 'none', silent: true, z: 1,
    lineStyle: { color: '#a9cbe6', width: 3 },
    data: [[x0, 0], [x1, 0]]
  });
  series.push({
    type: 'line', xAxisIndex: gr, yAxisIndex: gr, symbol: 'none', silent: true, z: 2,
    lineStyle: { color: BLUE, width: 1.2 },
    data: [[x0, 0], [x1, 0]]
  });
  series.push(errBars(gr, pts.map(function (q) { return [q[0], q[3], q[2]]; })));
  series.push({
    type: 'scatter', xAxisIndex: gr, yAxisIndex: gr, symbolSize: 3.5, z: 4, silent: true,
    itemStyle: { color: GREEN },
    data: pts.map(function (q) { return [q[0], q[3]]; })
  });

  if (!hide) {
    graphic.push({
      type: 'text', x: left + 17, y: top + 98, silent: true, z: 10,
      style: { text: label, fill: '#111', font: '9px "DejaVu Serif"', verticalAlign: 'middle', align: 'left' }
    });
  }
});

const chart = echarts.init(document.getElementById('main'), null, { renderer: 'canvas' });
chart.setOption({
  animation: false,
  backgroundColor: '#fff',
  grid: grid,
  xAxis: xAxis,
  yAxis: yAxis,
  series: series,
  graphic: graphic
});
</script>
</body>
</html>
